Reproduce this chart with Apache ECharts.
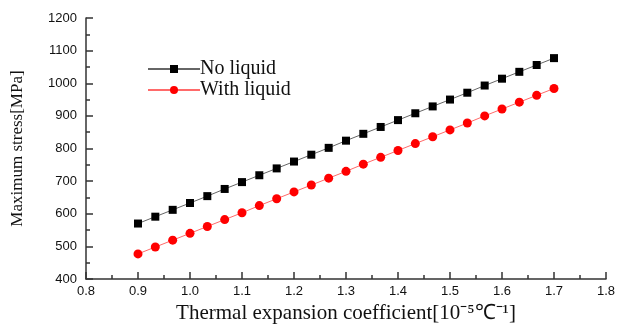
<!DOCTYPE html>
<html>
<head>
<meta charset="utf-8">
<script src="https://cdn.jsdelivr.net/npm/echarts@6/dist/echarts.min.js"></script>
<style>html,body{margin:0;padding:0;background:#fff;}#c{width:619px;height:324px;}</style>
</head>
<body>
<div id="c"></div>
<script>
const xValues = [0.9, 0.9333, 0.9667, 1.0, 1.0333, 1.0667, 1.1, 1.1333, 1.1667, 1.2, 1.2333, 1.2667, 1.3, 1.3333, 1.3667, 1.4, 1.4333, 1.4667, 1.5, 1.5333, 1.5667, 1.6, 1.6333, 1.6667, 1.7];
const noLiquid = [570, 591, 612, 633, 654, 676, 697, 718, 739, 760, 781, 802, 824, 845, 866, 887, 908, 929, 950, 971, 993, 1014, 1035, 1056, 1077];
const withLiquid = [477, 498, 519, 540, 561, 582, 603, 625, 646, 667, 688, 709, 730, 752, 773, 794, 815, 836, 857, 878, 900, 921, 942, 963, 984];
const seriesNames = ['No liquid', 'With liquid'];
const xTitle = 'Thermal expansion coefficient[10⁻⁵℃⁻¹]';
const yTitle = 'Maximum stress[MPa]';

const chart = echarts.init(document.getElementById('c'), null, {renderer: 'canvas'});
const pair = (ys) => xValues.map((x, i) => [x, ys[i]]);
const labelFont = {color: '#111', fontFamily: 'Liberation Sans', fontSize: 13};
chart.setOption({
  animation: false,
  backgroundColor: '#fff',
  grid: {left: 86, right: 13, top: 18, bottom: 45, containLabel: false, outerBoundsMode: 'none'},
  legend: {
    orient: 'vertical', left: 142, top: 54, itemGap: 1,
    itemWidth: 52, itemHeight: 10,
    textStyle: {fontFamily: 'Liberation Serif', fontSize: 20, color: '#111', padding: [0, 0, 0, -5]},
    data: seriesNames
  },
  xAxis: {
    type: 'value', min: 0.8, max: 1.8, interval: 0.1,
    name: xTitle, nameLocation: 'middle', nameGap: 24,
    nameTextStyle: {fontFamily: 'Liberation Serif', fontSize: 21, color: '#111'},
    axisLine: {lineStyle: {color: '#333', width: 1.5}},
    axisTick: {inside: true, length: 7, lineStyle: {color: '#333', width: 1.5}},
    minorTick: {show: true, splitNumber: 2, length: 4, lineStyle: {color: '#333', width: 1.5}},
    axisLabel: Object.assign({margin: 6, formatter: v => v.toFixed(1)}, labelFont),
    splitLine: {show: false}
  },
  yAxis: {
    type: 'value', min: 400, max: 1200, interval: 100,
    name: yTitle, nameLocation: 'middle', nameGap: 60, nameRotate: 90,
    nameTextStyle: {fontFamily: 'Liberation Serif', fontSize: 17, color: '#111'},
    axisLine: {show: true, lineStyle: {color: '#333', width: 1.5}},
    axisTick: {show: true, inside: true, length: 7, lineStyle: {color: '#333', width: 1.5}},
    minorTick: {show: true, splitNumber: 2, length: 4, lineStyle: {color: '#333', width: 1.5}},
    axisLabel: Object.assign({margin: 9, formatter: v => String(v)}, labelFont),
    splitLine: {show: false}
  },
  series: [
    {
      name: seriesNames[0], type: 'line', data: pair(noLiquid),
      symbol: 'rect', symbolSize: 8,
      itemStyle: {color: '#000'},
      lineStyle: {color: '#666', width: 1}
    },
    {
      name: seriesNames[1], type: 'line', data: pair(withLiquid),
      symbol: 'circle', symbolSize: 9,
      itemStyle: {color: '#ff0000'},
      lineStyle: {color: '#ff6a6a', width: 1}
    }
  ]
});
</script>
</body>
</html>
